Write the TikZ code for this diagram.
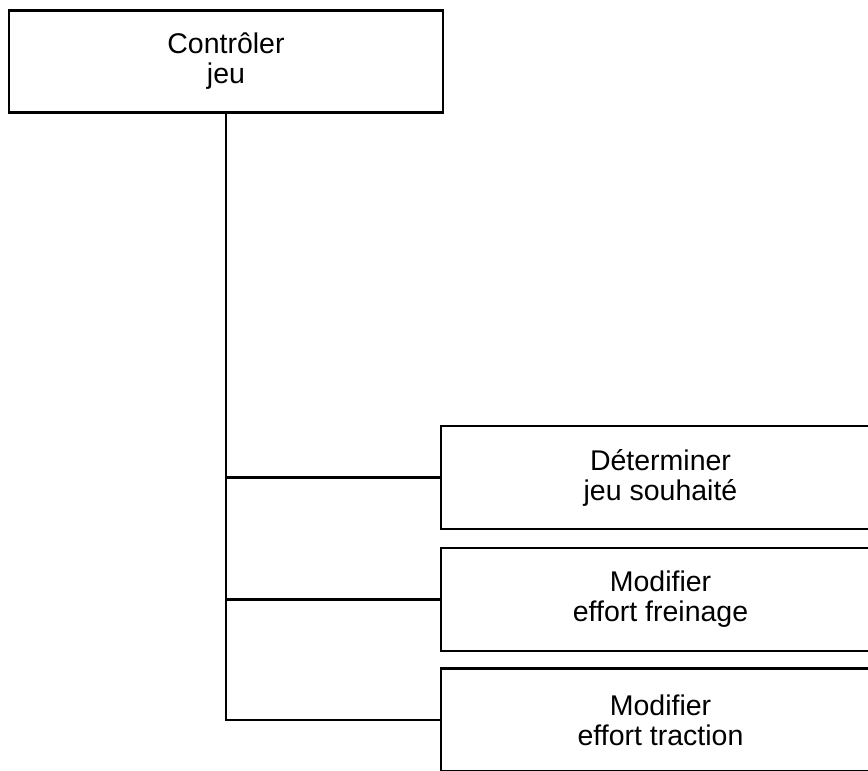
\documentclass[tikz,border=0pt]{standalone}
\usepackage{fontspec}
\setmainfont{Liberation Sans}
\usepackage{xcolor}

\begin{document}
\begin{tikzpicture}
	[x=1pt,y=1pt,line width=2.4pt,
	box/.style = {
		draw,
		fill=white,
		align=center,
		inner sep=0pt,
		font=\fontsize{28.5}{30}\selectfont
	},
	topbox/.style = {
		box,
		minimum width=434pt,
		minimum height=102pt
	},
	subbox/.style = {
		box,
		minimum width=439pt,
		minimum height=103pt
	}]
	\path[use as bounding box, clip] (0,0) rectangle (868,771);
	
	%Draw nodes
	\node[topbox] at (226,709.5) (ctrl) {Contrôler\\jeu};
	
	\node[subbox] at (660.5,293.5) (det) {Déterminer\\jeu souhaité};
	\node[subbox] at (660.5,171.5) (frein) {Modifier\\effort freinage};
	\node[subbox] at (660.5,51) (tract) {Modifier\\effort traction};
	
	\coordinate (c1) at (226,293.5);
	\coordinate (c2) at (226,171.5);
	\coordinate (c3) at (226,51);
	
	%Draw wires
	\draw (ctrl.south) -- (c3) -- (tract.west);
	\draw (c1) -- (det.west);
	\draw (c2) -- (frein.west);
	
\end{tikzpicture}
\end{document}
